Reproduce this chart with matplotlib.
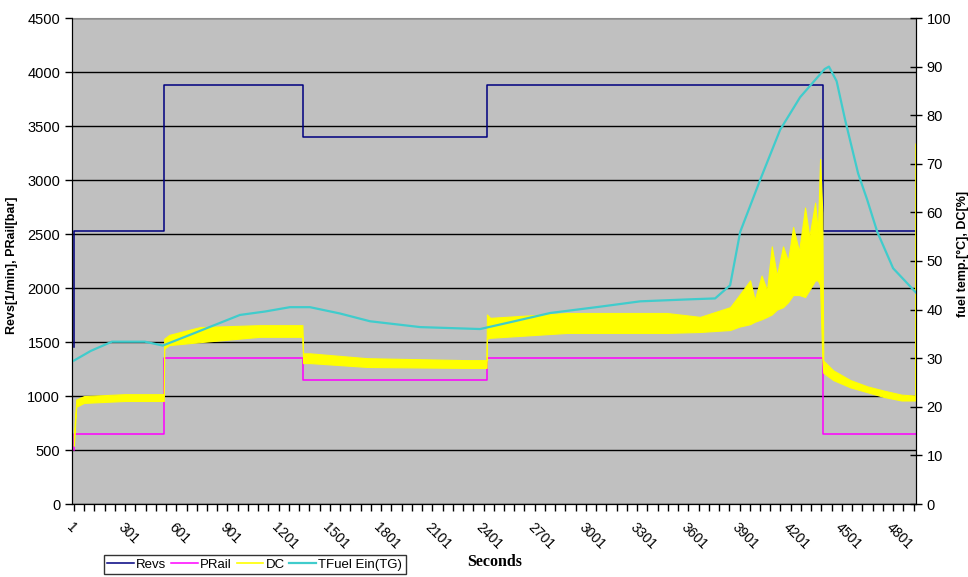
import matplotlib
matplotlib.use("Agg")
import matplotlib.pyplot as plt
from matplotlib.ticker import FixedLocator

plt.rcParams['font.family'] = ['Liberation Sans', 'DejaVu Sans']

# engine speed / rail pressure, step levels (left axis)
step_t = [1, 3, 530, 1343, 2420, 4389, 4935]
revs = [1450, 2530, 3880, 3400, 3880, 2530, 2530]
prail = [500, 650, 1350, 1150, 1350, 650, 650]

# duty cycle band, lower / upper edge (right axis, %)
dc_t = [1, 15, 60, 300, 528, 530, 560, 740, 1090, 1340, 1344, 1384, 1718,
        2305, 2419, 2421, 2440, 2890, 3476, 3670, 3846, 3900, 3963, 3990,
        4030, 4062, 4090, 4120, 4156, 4185, 4215, 4250, 4285, 4310, 4344,
        4360, 4373, 4386, 4392, 4450, 4550, 4650, 4750, 4850, 4934]
dc_lo = [12, 20, 20.8, 21.2, 21.2, 32, 32.7, 33.3, 34.4, 34.4, 29, 29, 28.2,
         28, 28, 34, 34.2, 35.2, 35.2, 35.4, 35.8, 36.5, 37, 37.5,
         38, 38.5, 39, 40, 40.5, 41.5, 43, 43, 42.6, 44, 46,
         46, 45, 30, 27, 25.5, 24, 23, 22, 21.3, 21.3]
dc_hi = [14, 21.5, 22.2, 22.6, 22.6, 34, 34.8, 36.4, 36.8, 36.8, 31, 31, 30,
         29.6, 29.6, 39, 38.3, 39.3, 39.3, 38.5, 40.5, 43, 46, 42,
         47, 44, 53, 47, 53, 50, 57, 52, 61, 55, 62,
         56, 71, 60, 29.5, 27.5, 25.5, 24.2, 23.3, 22.5, 22.3]
dc_tail_t = [4934, 4935]
dc_tail = [22, 74]

# fuel inlet temperature (right axis, degC)
tf_t = [1, 100, 224, 417, 522, 681, 974, 1120, 1267, 1384, 1560, 1736, 2030,
        2381, 2557, 2792, 3084, 3319, 3600, 3758, 3846, 3905, 4022, 4139,
        4256, 4333, 4400, 4425, 4470, 4520, 4596, 4649, 4708, 4801, 4935]
tfuel = [29.5, 31.5, 33.4, 33.4, 32.6, 34.8, 38.9, 39.6, 40.5, 40.5, 39.2,
         37.6, 36.4, 36.0, 37.4, 39.3, 40.6, 41.7, 42.1, 42.3, 45, 56, 66.7,
         77, 83.7, 86.8, 89.5, 90, 87, 79, 68, 62.6, 56, 48.5, 43.5]

xlabels = list(range(1, 4802, 300))

fig = plt.figure(figsize=(9.68, 5.77), dpi=100)
ax = fig.add_axes([72 / 968, 73 / 577, 844 / 968, 486 / 577])
ax.set_facecolor('#C0C0C0')

ax.step(step_t, revs, where='post', color='#000080', lw=1.1, label='Revs')
ax.step(step_t, prail, where='post', color='#FF00FF', lw=1.1, label='PRail')

ax.set_xlim(-10, 4935)
ax.set_ylim(0, 4500)
ax.set_yticks(range(0, 4501, 500))
ax.yaxis.grid(True, color='black', lw=1)
ax.set_axisbelow(True)

ax.xaxis.set_major_locator(FixedLocator(xlabels))
ax.xaxis.set_minor_locator(FixedLocator(range(1, 4935, 60)))
ax.set_xticklabels([str(v) for v in xlabels], rotation=-45, ha='left',
                   va='top', rotation_mode='anchor')
ax.tick_params(axis='x', which='both', length=5, width=1, direction='out',
               labelsize=10, pad=7)
ax.tick_params(axis='y', length=5, width=1, labelsize=10.5)

for side in ['left', 'bottom']:
    ax.spines[side].set_color('black')
ax.spines['top'].set_color('#8C8C8C')
ax.spines['top'].set_zorder(3)

ax.set_ylabel('Revs[1/min], PRail[bar]', fontsize=9, fontweight='bold')
ax.yaxis.set_label_coords(-54 / 844, 0.492)
ax.set_xlabel('Seconds', family='Liberation Serif', fontsize=11.5,
              fontweight='bold', va='center')
ax.xaxis.set_label_coords((495 - 72) / 844, -58 / 486)

ax2 = ax.twinx()
ax2.set_ylim(0, 100)
ax2.set_yticks(range(0, 101, 10))
ax2.tick_params(axis='y', length=8, width=1, direction='inout', labelsize=10.5)
ax2.fill_between(dc_t, dc_lo, dc_hi, color='#FFFF00', lw=0.8, edgecolor='#FFFF00')
ax2.plot(dc_tail_t, dc_tail, color='#FFFF00', lw=1.2, label='DC')
ax2.plot(tf_t, tfuel, color='#40CCCC', lw=1.6, label='TFuel Ein(TG)')
ax2.set_ylabel('fuel temp.[°C], DC[%]', fontsize=9, fontweight='bold')
ax2.yaxis.set_label_coords((957 - 72) / 844, 0.514)
ax2.spines['right'].set_color('black')
ax2.spines['top'].set_visible(False)

h1, l1 = ax.get_legend_handles_labels()
h2, l2 = ax2.get_legend_handles_labels()
leg = fig.legend(h1 + h2, l1 + l2, ncol=4, loc='upper left',
                 bbox_to_anchor=(104 / 968, 1 - 555 / 577), fontsize=9.5,
                 frameon=True, fancybox=False, handlelength=2.0,
                 handletextpad=0.2, columnspacing=0.35, borderpad=0.25,
                 borderaxespad=0)
leg.get_frame().set_edgecolor('black')
leg.get_frame().set_linewidth(1)

fig.savefig('out.png', dpi=100)
